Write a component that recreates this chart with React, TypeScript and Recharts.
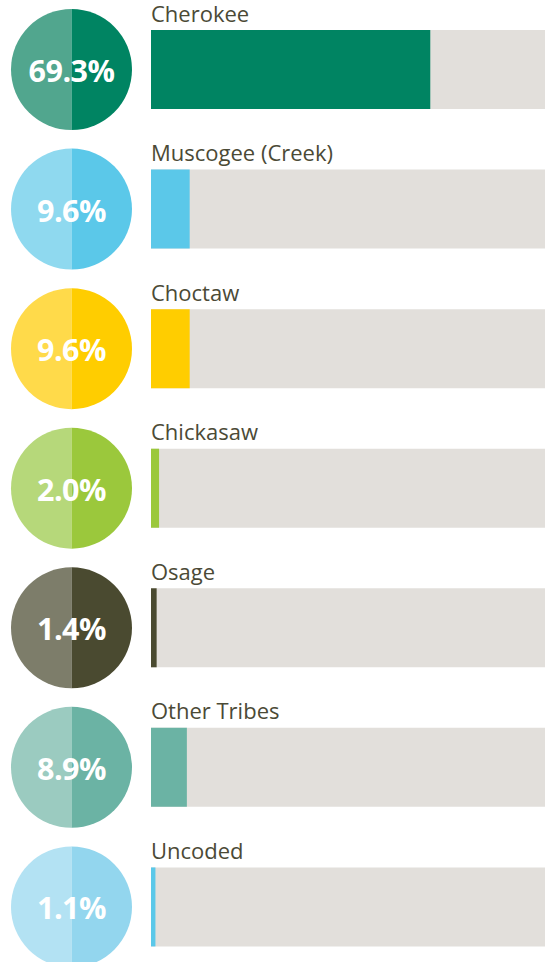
import React from "react";
import { BarChart, Bar, XAxis, YAxis, Cell, LabelList } from "recharts";

const tribes = ["Cherokee", "Muscogee (Creek)", "Choctaw", "Chickasaw", "Osage", "Other Tribes", "Uncoded"];
const shares = [69.3, 9.6, 9.6, 2.0, 1.4, 8.9, 1.1];
const percentLabels = ["69.3%", "9.6%", "9.6%", "2.0%", "1.4%", "8.9%", "1.1%"];
const darkColors = ["#008462", "#5bc8e9", "#ffcd00", "#9bc83c", "#4a4a30", "#6bb3a4", "#93d6ee"];
const lightColors = ["#51a68e", "#8fd9ef", "#ffda4a", "#b6d87a", "#7d7d6a", "#9bcbc0", "#b3e2f3"];
const barColors = ["#008462", "#5bc8e9", "#ffcd00", "#9bc83c", "#4a4a30", "#6bb3a4", "#5bc8e9"];

const data = tribes.map((name, i) => ({ name, value: shares[i], label: percentLabels[i] }));

const CX = 71.5;
const R = 60.5;

const RowDecor = (props: any) => {
  const { y, height, index } = props;
  const cy = Number(y) + Number(height) / 2;
  const i = Number(index);
  return (
    <g>
      <path d={`M${CX},${cy - R} A${R},${R} 0 0 0 ${CX},${cy + R} Z`} fill={lightColors[i]} />
      <path d={`M${CX},${cy - R} A${R},${R} 0 0 1 ${CX},${cy + R} Z`} fill={darkColors[i]} />
      <text
        x={CX}
        y={cy + 12.5}
        textAnchor="middle"
        fill="#ffffff"
        fontFamily="'Open Sans', sans-serif"
        fontWeight={700}
        fontSize={30.5}
        letterSpacing={-0.5}
      >
        {percentLabels[i]}
      </text>
      <text
        x={151}
        y={Number(y) - 8.5}
        fill="#4b4a36"
        fontFamily="'Open Sans', sans-serif"
        fontSize={22}
      >
        {tribes[i]}
      </text>
    </g>
  );
};

export default function App() {
  return (
    <div
      style={{
        position: "fixed",
        left: 0,
        top: 0,
        width: 545,
        height: 962,
        overflow: "hidden",
        background: "#ffffff",
      }}
    >
      <BarChart
        width={554}
        height={977}
        data={data}
        layout="vertical"
        margin={{ top: 0, right: 0, left: 151, bottom: 0 }}
      >
        <XAxis type="number" domain={[0, 100]} hide />
        <YAxis type="category" dataKey="name" hide />
        <Bar
          dataKey="value"
          barSize={79}
          background={{ fill: "#e2dfdb" }}
          isAnimationActive={false}
        >
          {data.map((d, i) => (
            <Cell key={d.name} fill={barColors[i]} />
          ))}
          <LabelList dataKey="label" content={<RowDecor />} />
        </Bar>
      </BarChart>
    </div>
  );
}
